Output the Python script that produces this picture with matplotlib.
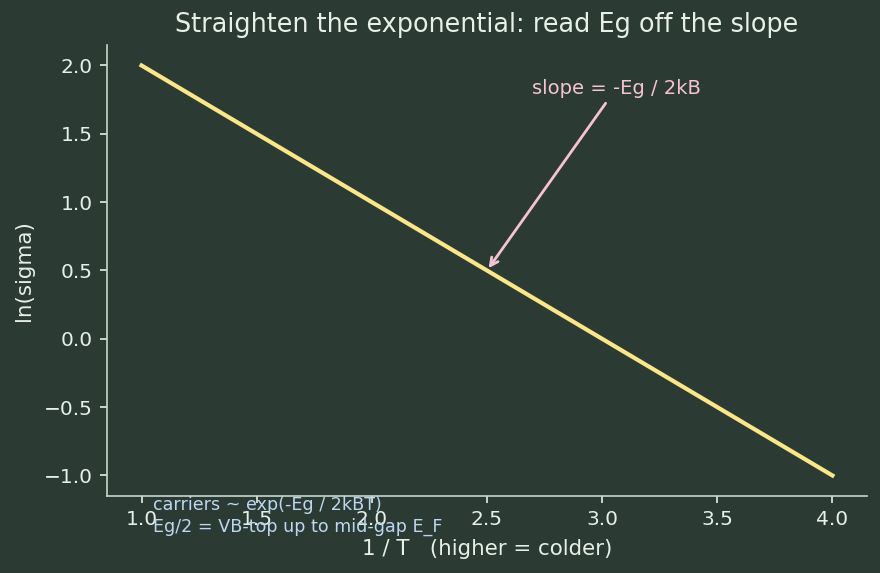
import matplotlib
matplotlib.use("Agg")
import matplotlib.pyplot as plt

# inverse temperature and log conductivity (straight line)
inv_T = [1.0, 1.5, 2.0, 2.5, 3.0, 3.5, 4.0]
ln_sigma = [2.0, 1.5, 1.0, 0.5, 0.0, -0.5, -1.0]

bg = '#2b3b34'
fg = '#e6efe8'

fig, ax = plt.subplots(figsize=(8.8, 5.73), dpi=100)
fig.patch.set_facecolor(bg)
ax.set_facecolor(bg)

ax.plot(inv_T, ln_sigma, color='#fde68a', lw=3.0)

ax.annotate('slope = -Eg / 2kB', xy=(2.5, 0.5), xytext=(3.06, 1.83),
            ha='center', va='center', color='#f6c3d3', fontsize=14,
            arrowprops=dict(arrowstyle='->', color='#f6c3d3', lw=2))

ax.text(0.06, 0.0, 'carriers ~ exp(-Eg / 2kBT)\nEg/2 = VB-top up to mid-gap E_F',
        transform=ax.transAxes, ha='left', va='top', color='#bcd7f0',
        fontsize=12.6, linespacing=1.25)

ax.set_title('Straighten the exponential: read Eg off the slope', color=fg,
             fontsize=18.4, pad=9)
ax.set_xlabel('1 / T   (higher = colder)', color=fg, fontsize=15.4, labelpad=7)
ax.set_ylabel('ln(sigma)', color=fg, fontsize=15.4, labelpad=7)

ax.tick_params(colors=fg, labelsize=14.5, length=5.2, width=1.2, pad=5.2)
for s in ['top', 'right']:
    ax.spines[s].set_visible(False)
for s in ['left', 'bottom']:
    ax.spines[s].set_color('#c8d8cc')
    ax.spines[s].set_linewidth(1.2)

fig.subplots_adjust(left=0.1216, right=0.9852, top=0.9215, bottom=0.1344)
plt.savefig('out.png', facecolor=bg)
